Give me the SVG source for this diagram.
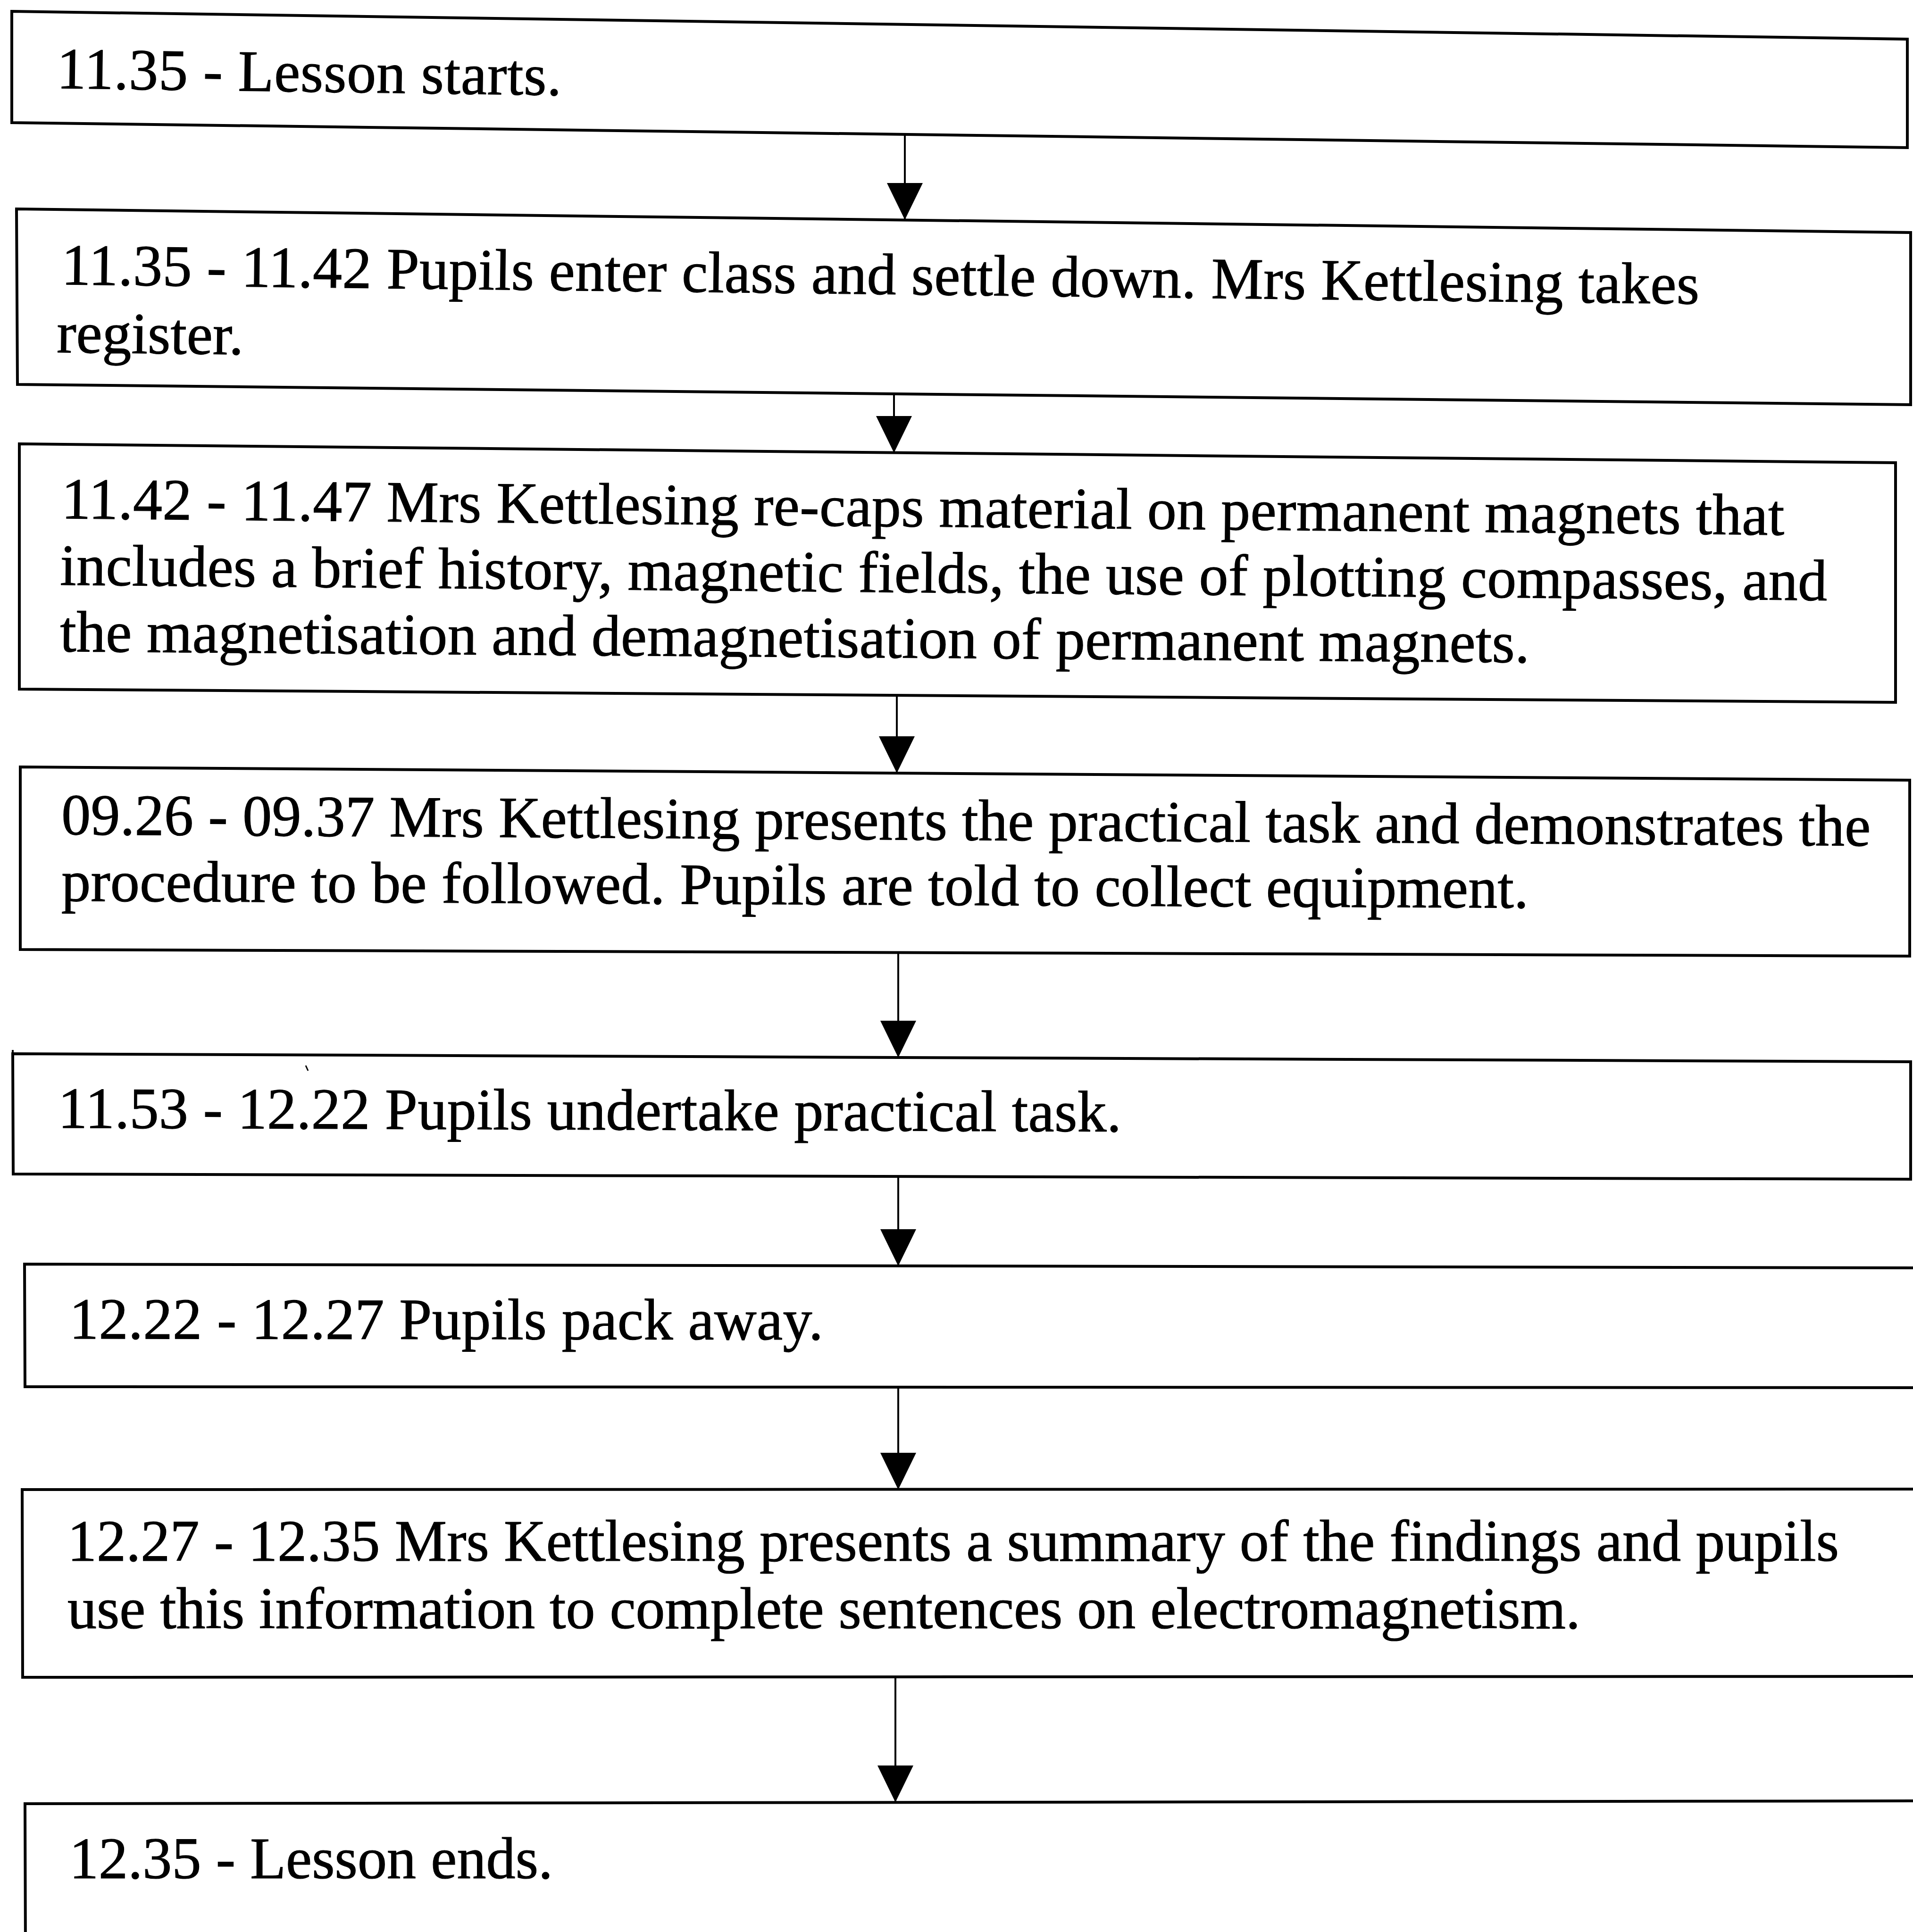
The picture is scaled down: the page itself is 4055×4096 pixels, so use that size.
<svg xmlns="http://www.w3.org/2000/svg" width="4055" height="4096" viewBox="0 0 4055 4096">
<style>
.box{fill:#fff;stroke:#000;stroke-width:6;stroke-linejoin:miter}
.conn{stroke:#000;stroke-width:4;fill:none}
.t{font-family:"Liberation Serif","Times New Roman",serif;font-size:124px;fill:#000;stroke:#000;stroke-width:1.2}
</style>
<defs>
<marker id="ah" markerUnits="userSpaceOnUse" viewBox="0 0 78 76" refX="78" refY="38" markerWidth="78" markerHeight="76" orient="auto">
<path d="M0,0 L78,38 L0,76 Z" fill="#000"/>
</marker>
</defs>
<rect width="4055" height="4096" fill="#fff"/>
<g id="n1">
<polygon class="box" points="25,24 4043,83 4043,313 25,260"/>
<text class="t" x="120" y="187" textLength="1070" lengthAdjust="spacing" transform="rotate(0.8 120 187)">11.35 - Lesson starts.</text>
</g>
<g id="n2">
<polygon class="box" points="35,443 4050,493 4050,858 37,815"/>
<text class="t" x="130" y="603" textLength="3472" lengthAdjust="spacing" transform="rotate(0.68 130 603)">11.35 - 11.42 Pupils enter class and settle down. Mrs Kettlesing takes</text>
<text class="t" x="120" y="747" transform="rotate(0.63 120 747)">register.</text>
</g>
<g id="n3">
<polygon class="box" points="41,941 4018,981 4018,1489 41,1461"/>
<text class="t" x="130" y="1099" textLength="3652" lengthAdjust="spacing" transform="rotate(0.55 130 1099)">11.42 - 11.47 Mrs Kettlesing re-caps material on permanent magnets that</text>
<text class="t" x="127" y="1240" textLength="3746" lengthAdjust="spacing" transform="rotate(0.5 127 1240)">includes a brief history, magnetic fields, the use of plotting compasses, and</text>
<text class="t" x="127" y="1381" textLength="3115" lengthAdjust="spacing" transform="rotate(0.43 127 1381)">the magnetisation and demagnetisation of permanent magnets.</text>
</g>
<g id="n4">
<polygon class="box" points="43,1626 4048,1654 4048,2027 43,2013"/>
<text class="t" x="130" y="1769" textLength="3835" lengthAdjust="spacing" transform="rotate(0.36 130 1769)">09.26 - 09.37 Mrs Kettlesing presents the practical task and demonstrates the</text>
<text class="t" x="130" y="1910" textLength="3110" lengthAdjust="spacing" transform="rotate(0.27 130 1910)">procedure to be followed. Pupils are told to collect equipment.</text>
</g>
<g id="n5">
<polygon class="box" points="27,2234 4050,2251 4050,2500 28,2489"/>
<path d="M27,2226 L27,2240" stroke="#000" stroke-width="4"/>
<text class="t" x="123" y="2391" textLength="2254" lengthAdjust="spacing" transform="rotate(0.2 123 2391)">11.53 - 12.22 Pupils undertake practical task.</text>
<path d="M648,2259 L653,2270" stroke="#000" stroke-width="3"/>
</g>
<g id="n6">
<polygon class="box" points="52,2680 4075,2688 4075,2942 53,2940"/>
<text class="t" x="147" y="2838" textLength="1598" lengthAdjust="spacing" transform="rotate(0.07 147 2838)">12.22 - 12.27 Pupils pack away.</text>
</g>
<g id="n7">
<polygon class="box" points="47,3158 4075,3157 4075,3554 48,3556"/>
<text class="t" x="143" y="3309" textLength="3755" lengthAdjust="spacing">12.27 - 12.35 Mrs Kettlesing presents a summary of the findings and pupils</text>
<text class="t" x="143" y="3452" textLength="3207" lengthAdjust="spacing">use this information to complete sentences on electromagnetism.</text>
</g>
<g id="n8">
<polygon class="box" points="53,3824 4075,3818 4075,4130 54,4130"/>
<text class="t" x="147" y="3982" textLength="1025" lengthAdjust="spacing">12.35 - Lesson ends.</text>
</g>
<g id="connectors">
<line class="conn" x1="1918" y1="285" x2="1918" y2="466" marker-end="url(#ah)"/>
<line class="conn" x1="1895" y1="835" x2="1895" y2="960" marker-end="url(#ah)"/>
<line class="conn" x1="1901" y1="1474" x2="1901" y2="1639" marker-end="url(#ah)"/>
<line class="conn" x1="1904" y1="2020" x2="1904" y2="2242" marker-end="url(#ah)"/>
<line class="conn" x1="1904" y1="2494" x2="1904" y2="2684" marker-end="url(#ah)"/>
<line class="conn" x1="1904" y1="2941" x2="1904" y2="3158" marker-end="url(#ah)"/>
<line class="conn" x1="1898" y1="3555" x2="1898" y2="3821" marker-end="url(#ah)"/>
</g>
</svg>
